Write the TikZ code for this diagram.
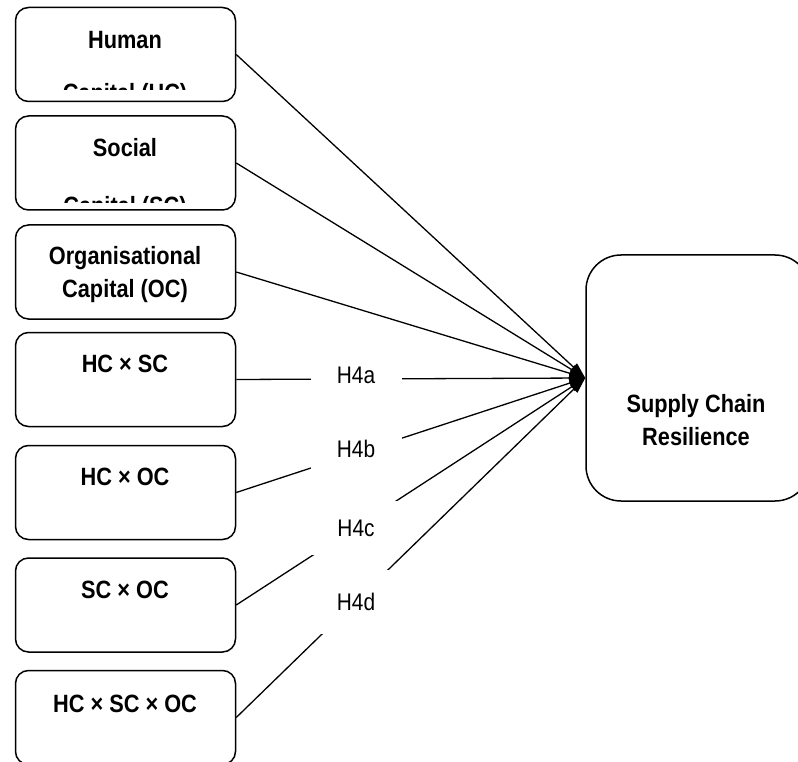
\documentclass[tikz,border=0pt]{standalone}
\usepackage{fontspec}
\setmainfont{Liberation Sans}[FakeStretch=0.87]
\usetikzlibrary{arrows.meta}
\begin{document}
\begin{tikzpicture}[x=1pt,y=-1pt,
  box/.style={draw, line width=1.5pt, rounded corners=13pt, minimum width=220pt, minimum height=94pt, inner sep=0pt},
  bigbox/.style={draw, line width=1.5pt, rounded corners=35pt, minimum width=224pt, minimum height=246pt, inner sep=0pt},
  ttl/.style={font=\bfseries\fontsize{25}{30}\selectfont, anchor=base, inner sep=0pt},
  hyp/.style={fill=white, font=\fontsize{24}{29}\selectfont, minimum width=91pt, minimum height=54pt, inner sep=0pt},
  conn/.style={line width=1.3pt, -{Triangle[length=16pt,width=10pt]}}]
\clip (0,0) rectangle (798,762);
% boxes
\node[box] (hc) at (125.5,54.5) {};
\node[box] (sc) at (125.5,163) {};
\node[box] (oc) at (125.5,272) {};
\node[box] (hcsc) at (125.5,379.5) {};
\node[box] (hcoc) at (125.5,492.5) {};
\node[box] (scoc) at (125.5,605) {};
\node[box] (hcscoc) at (125.5,717.5) {};
\node[bigbox] (scr) at (698,378) {};
% box texts
\node[ttl] (hct) at (125,49) {Human};
\begin{scope}
\clip (15.5,8) rectangle (235.5,89.3);
\node[ttl] (hct2) at (125,102) {Capital (HC)};
\end{scope}
\node[ttl] (sct) at (125,157) {Social};
\begin{scope}
\clip (15.5,115) rectangle (235.5,202.7);
\node[ttl] (sct2) at (125,215) {Capital (SC)};
\end{scope}
\node[ttl] (oct) at (125,265) {Organisational};
\node[ttl] (oct2) at (125,298) {Capital (OC)};
\node[ttl] (hcsct) at (125,372) {HC × SC};
\node[ttl] (hcoct) at (125,485) {HC × OC};
\node[ttl] (scoct) at (125,598) {SC × OC};
\node[ttl] (hcscoct) at (125,712) {HC × SC × OC};
\node[ttl] (scrt) at (696,412) {Supply Chain};
\node[ttl] (scrt2) at (696,445) {Resilience};
% connectors
\draw[conn] (hc.east) -- (scr.west);
\draw[conn] (sc.east) -- (scr.west);
\draw[conn] (oc.east) -- (scr.west);
\draw[conn] (hcsc.east) -- (scr.west);
\draw[conn] (hcoc.east) -- (scr.west);
\draw[conn] (scoc.east) -- (scr.west);
\draw[conn] (hcscoc.east) -- (scr.west);
% hypothesis labels
\node[hyp] (h4a) at (356,375) {H4a};
\node[hyp] (h4b) at (356,449) {H4b};
\node[hyp] (h4c) at (356,528) {H4c};
\node[hyp, minimum height=64pt] (h4d) at (356,602) {H4d};
\end{tikzpicture}
\end{document}
